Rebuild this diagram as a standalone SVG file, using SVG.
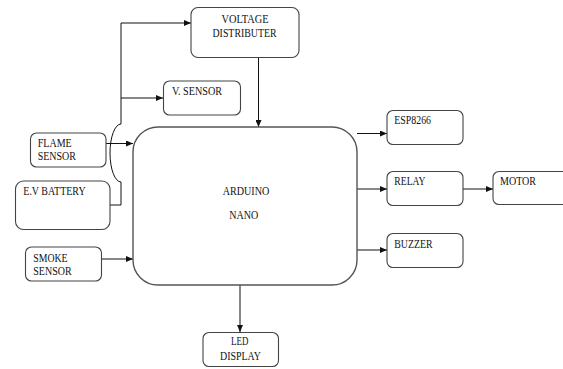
<svg xmlns="http://www.w3.org/2000/svg" width="563" height="369" viewBox="0 0 563 369">
<defs>
<marker id="ah" markerWidth="8" markerHeight="6" refX="7" refY="3" orient="auto" markerUnits="userSpaceOnUse">
<path d="M0,0 L7,3 L0,6 Z" fill="#111"/>
</marker>
<style>
.box{fill:#fff;stroke:#444;stroke-width:1.1}
.big{fill:#fff;stroke:#555;stroke-width:1.4}
text{font-family:'Liberation Serif','DejaVu Serif',serif;font-size:11.5px;fill:#111}
.m{text-anchor:middle}
.c{fill:none;stroke:#111;stroke-width:1}
.a{marker-end:url(#ah)}
</style>
</defs>
<rect width="563" height="369" fill="#fff"/>
<g id="connectors">
<path class="c" d="M121,205 L110,205"/>
<path class="c" d="M121,205 L121,182 A11,29 0 0 1 121,124 L121,23"/>
<path class="c a" d="M121,23 L191,23"/>
<path class="c a" d="M121,98 L163,98"/>
<path class="c a" d="M258.5,57 L258.5,127"/>
<path class="c a" d="M106,143.5 L133,143.5"/>
<path class="c a" d="M102,259 L133,259"/>
<path class="c a" d="M357,133.5 L387,133.5"/>
<path class="c a" d="M357,189 L387,189"/>
<path class="c a" d="M357,250 L387,250"/>
<path class="c a" d="M463,189 L493,189"/>
<path class="c a" d="M240,285 L240,332"/>
</g>
<g id="voltage-distributer">
<rect class="box" x="191" y="7.5" width="108" height="50" rx="7"/>
<text class="m" x="245" y="23" textLength="47" lengthAdjust="spacingAndGlyphs">VOLTAGE</text>
<text class="m" x="244.5" y="36.5" textLength="64" lengthAdjust="spacingAndGlyphs">DISTRIBUTER</text>
</g>
<g id="v-sensor">
<rect class="box" x="163.5" y="81" width="77" height="34" rx="6"/>
<text x="172" y="95" textLength="50" lengthAdjust="spacingAndGlyphs">V. SENSOR</text>
</g>
<g id="flame-sensor">
<rect class="box" x="30.5" y="133" width="75.5" height="34" rx="6"/>
<text x="37.7" y="146.5" textLength="34" lengthAdjust="spacingAndGlyphs">FLAME</text>
<text x="37.7" y="160" textLength="38.3" lengthAdjust="spacingAndGlyphs">SENSOR</text>
</g>
<g id="ev-battery">
<rect class="box" x="15.5" y="181" width="94.5" height="48.5" rx="8"/>
<text x="23.3" y="195" textLength="62.3" lengthAdjust="spacingAndGlyphs">E.V BATTERY</text>
</g>
<g id="smoke-sensor">
<rect class="box" x="25.5" y="247" width="76" height="34" rx="6"/>
<text x="33.3" y="261.5" textLength="34.3" lengthAdjust="spacingAndGlyphs">SMOKE</text>
<text x="33.3" y="275" textLength="38.3" lengthAdjust="spacingAndGlyphs">SENSOR</text>
</g>
<g id="arduino-nano">
<rect class="big" x="133" y="127" width="224" height="158" rx="25"/>
<text class="m" x="246" y="195" textLength="46.7" lengthAdjust="spacingAndGlyphs">ARDUINO</text>
<text class="m" x="243.8" y="219.3" textLength="29" lengthAdjust="spacingAndGlyphs">NANO</text>
</g>
<g id="esp8266">
<rect class="box" x="387" y="110.5" width="76" height="34" rx="6"/>
<text x="394.3" y="124" textLength="36.7" lengthAdjust="spacingAndGlyphs">ESP8266</text>
</g>
<g id="relay">
<rect class="box" x="387" y="171.5" width="76" height="34" rx="6"/>
<text x="394.3" y="185" textLength="31.3" lengthAdjust="spacingAndGlyphs">RELAY</text>
</g>
<g id="motor">
<rect class="box" x="493" y="171.5" width="80" height="33" rx="6"/>
<text x="500" y="185" textLength="36" lengthAdjust="spacingAndGlyphs">MOTOR</text>
</g>
<g id="buzzer">
<rect class="box" x="387" y="233.5" width="76" height="34" rx="6"/>
<text x="394.3" y="248.3" textLength="38.3" lengthAdjust="spacingAndGlyphs">BUZZER</text>
</g>
<g id="led-display">
<rect class="box" x="203" y="332.5" width="75.5" height="34" rx="6"/>
<text class="m" x="239.7" y="345" textLength="17.3" lengthAdjust="spacingAndGlyphs">LED</text>
<text class="m" x="240.5" y="360" textLength="41" lengthAdjust="spacingAndGlyphs">DISPLAY</text>
</g>
</svg>
